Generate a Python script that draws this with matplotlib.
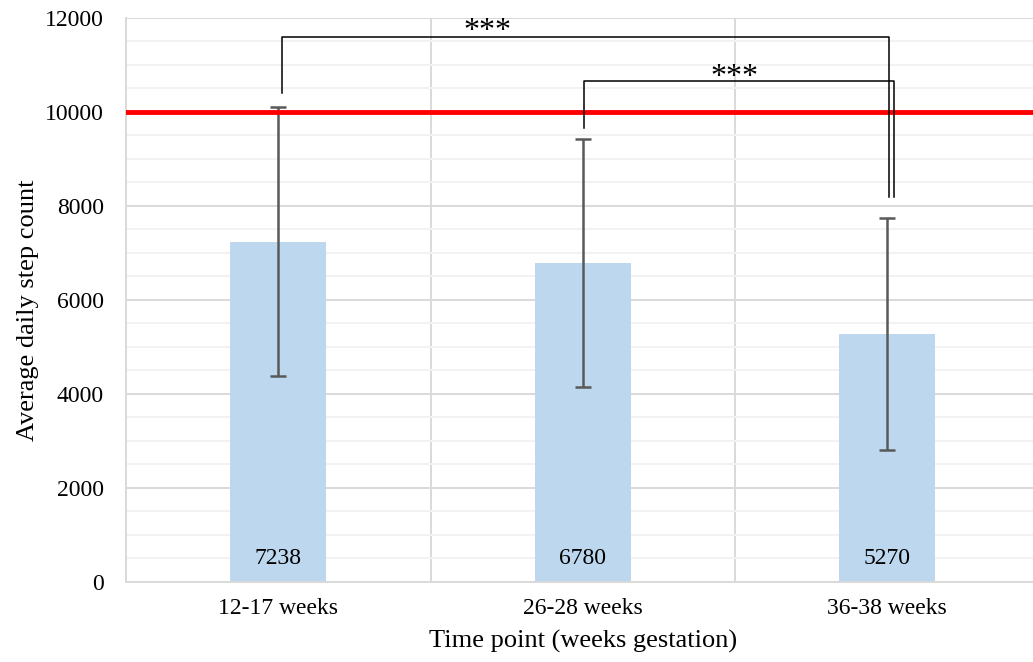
import matplotlib.pyplot as plt
from matplotlib.ticker import MultipleLocator

plt.rcParams['font.family'] = ['Liberation Serif', 'DejaVu Serif']

# data
time_points = ["12-17 weeks", "26-28 weeks", "36-38 weeks"]
mean_steps = [7238, 6780, 5270]
sd_steps = [2870, 2640, 2480]
target_steps = 10000

# significance brackets: (left x, right x, left leg bottom, right leg bottom, bar height, star x, star baseline)
brackets = [
    (0.013, 2.007, 10400, 8190, 11590, 0.686, 11560),
    (1.005, 2.023, 9660, 8190, 10660, 1.497, 10570),
]

fig = plt.figure(figsize=(10.33, 6.62), dpi=100)
ax = fig.add_axes([126 / 1033, 80.5 / 662, 913.5 / 1033, 563.5 / 662])

x = list(range(len(time_points)))
ax.bar(x, mean_steps, width=0.315, color="#BDD7EE", zorder=2)
ax.errorbar(x, mean_steps, yerr=sd_steps, fmt="none", ecolor="#595959",
            elinewidth=1.8, capsize=6, capthick=1.8, zorder=3)

for xi, m in zip(x, mean_steps):
    ax.text(xi, 260, str(m), ha="center", va="bottom", fontsize=17, zorder=4)

ax.axhline(target_steps, color="#FF0000", linewidth=3.5, zorder=3)

for x0, x1, y0, y1, top, sx, sy in brackets:
    ax.plot([x0, x0, x1, x1], [y0, top, top, y1], color="black", linewidth=1.1, zorder=4)
    ax.text(sx, sy, "***", ha="center", va="baseline", fontsize=23, zorder=4)

ax.set_ylim(0, 12000)
ax.set_xlim(-0.5, 2.5)
ax.yaxis.set_major_locator(MultipleLocator(2000))
ax.yaxis.set_minor_locator(MultipleLocator(500))
ax.grid(axis="y", which="major", color="#D9D9D9", linewidth=1.4, zorder=0)
ax.grid(axis="y", which="minor", color="#F2F2F2", linewidth=1.4, zorder=0)
ax.set_xticks(x)
ax.set_xticklabels(time_points)
ax.set_xticks([0.5, 1.5], minor=True)
ax.grid(axis="x", which="minor", color="#D9D9D9", linewidth=1.4, zorder=0)
ax.tick_params(axis="both", which="both", length=0, labelsize=17)
ax.tick_params(axis="x", pad=12)
ax.tick_params(axis="y", pad=16)

for side in ["top", "right"]:
    ax.spines[side].set_visible(False)
for side in ["left", "bottom"]:
    ax.spines[side].set_color("#D9D9D9")
    ax.spines[side].set_linewidth(1.4)

ax.set_xlabel("Time point (weeks gestation)", fontsize=19, labelpad=8)
ax.set_ylabel("Average daily step count", fontsize=19, labelpad=4)
ax.yaxis.label.set_y(0.482)

fig.savefig("out.png", dpi=100)
